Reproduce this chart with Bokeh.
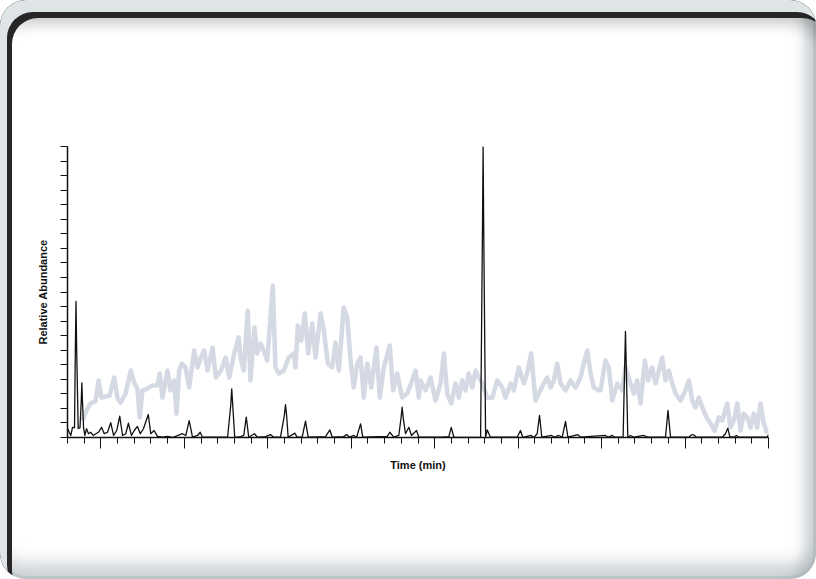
from bokeh.plotting import figure
from bokeh.models import Range1d, FixedTicker, CustomJSTickFormatter
from bokeh.embed import file_html
from bokeh.resources import INLINE

# ---- data ----
# grey trace (total ion current), time in ticks units, relative abundance in %
tic_t = [0.90, 1.14, 1.38, 1.68, 1.86, 2.04, 2.28, 2.52, 2.80, 3.00, 3.18, 3.48, 3.79, 4.01, 4.19, 4.33,
         4.49, 4.79, 5.09, 5.39, 5.53, 5.69, 5.99, 6.17, 6.39, 6.53, 6.69, 6.85, 7.07, 7.29, 7.59, 7.79,
         7.99, 8.19, 8.39, 8.69, 8.89, 9.19, 9.48, 9.69, 9.99, 10.25, 10.37, 10.56, 10.80, 10.96, 11.20,
         11.37, 11.56, 11.76, 11.97, 12.30, 12.46, 12.66, 12.96, 13.26, 13.56, 13.66, 13.80, 14.00, 14.22,
         14.42, 14.66, 14.86, 15.16, 15.36, 15.60, 15.86, 16.06, 16.26, 16.55, 16.76, 16.96, 17.15, 17.36,
         17.56, 17.75, 17.96, 18.20, 18.51, 18.71, 18.95, 19.31, 19.51, 19.75, 20.05, 20.35, 20.59, 20.85,
         21.05, 21.15, 21.45, 21.75, 22.05, 22.35, 22.55, 22.75, 22.99, 23.25, 23.45, 23.65, 23.85, 24.04,
         24.25, 24.45, 24.64, 24.85, 25.15, 25.45, 25.75, 26.05, 26.24, 26.54, 26.74, 27.04, 27.34, 27.54,
         27.78, 28.04, 28.24, 28.54, 28.74, 28.94, 29.14, 29.34, 29.54, 29.84, 30.14, 30.44, 30.74, 30.93,
         31.14, 31.34, 31.53, 31.82, 31.94, 32.23, 32.43, 32.64, 32.94, 33.24, 33.43, 33.73, 33.93, 34.13,
         34.33, 34.59, 34.79, 35.03, 35.23, 35.43, 35.63, 35.83, 36.03, 36.23, 36.43, 36.73, 37.03, 37.23,
         37.43, 37.63, 37.83, 38.03, 38.29, 38.53, 38.77, 39.02, 39.23, 39.53, 39.72, 39.92, 40.13, 40.32,
         40.52, 40.73, 40.92, 41.12, 41.32, 41.52, 41.72, 41.92]
tic_ab = [5.8, 9.3, 11.7, 12.4, 19.6, 13.7, 14.1, 14.4, 20.6, 13.4, 12.0, 15.1, 23.0, 18.6, 16.8, 6.9,
          16.2, 16.8, 17.9, 17.9, 22.0, 13.7, 23.0, 16.2, 19.6, 8.2, 23.0, 25.4, 24.1, 17.2, 29.9, 24.1,
          27.5, 29.9, 23.0, 30.9, 20.6, 23.0, 27.5, 20.6, 28.9, 34.4, 27.5, 23.0, 43.6, 19.6, 37.8,
          28.9, 32.3, 29.9, 26.5, 52.2, 24.1, 22.0, 23.0, 27.5, 28.9, 24.1, 38.5, 33.3, 42.6,
          28.9, 39.2, 27.5, 42.6, 36.8, 25.4, 24.1, 32.6, 23.0, 44.7, 41.2, 26.5, 17.2, 25.4,
          27.5, 13.7, 25.4, 17.2, 30.9, 13.7, 24.1, 31.6, 16.2, 22.0, 13.7, 15.1, 18.6, 23.0,
          13.7, 19.6, 16.2, 20.6, 12.7, 18.6, 28.9, 15.1, 11.7, 18.6, 13.7, 19.6, 16.2, 22.0,
          17.2, 23.0, 20.6, 18.6, 13.7, 13.7, 19.6, 17.2, 13.7, 18.6, 16.2, 24.1, 18.6, 22.0,
          28.9, 12.7, 15.1, 18.6, 20.6, 17.2, 19.6, 25.4, 18.6, 16.2, 19.6, 17.2, 20.6, 25.4,
          29.9, 22.0, 17.2, 16.2, 16.2, 26.5, 24.1, 12.7, 18.6, 16.2, 24.1, 18.6, 15.1, 19.6,
          11.7, 26.5, 19.6, 24.1, 18.6, 23.0, 27.5, 19.6, 23.0, 18.6, 15.1, 12.7, 16.2, 19.6,
          12.7, 10.3, 13.7, 10.3, 6.9, 4.8, 2.4, 6.9, 5.8, 11.7, 3.4, 5.8, 11.7, 2.4,
          8.2, 6.9, 3.4, 8.2, 3.4, 11.7, 4.8, 1.4]

# black trace (extracted ion chromatogram)
eic_t = [0.00, 0.20, 0.30, 0.42, 0.47, 0.51, 0.55, 0.64, 0.75, 0.82, 0.86, 0.90, 0.96, 1.04, 1.14, 1.26,
         1.40, 1.54, 1.70, 1.86, 2.04, 2.20, 2.40, 2.59, 2.76, 2.95, 3.13, 3.30, 3.49, 3.65, 3.83, 4.00,
         4.19, 4.36, 4.55, 4.84, 4.99, 5.19, 5.39, 5.69, 5.99, 6.29, 6.89, 7.09, 7.29, 7.49, 7.79, 7.95,
         8.09, 9.59, 9.78, 9.84, 9.90, 10.02, 10.37, 10.56, 10.71, 10.86, 11.20, 11.38, 11.86, 12.16, 12.36,
         12.76, 12.99, 13.06, 13.13, 13.22, 13.62, 13.76, 14.06, 14.26, 14.42, 15.46, 15.72, 15.86, 16.55,
         16.72, 16.91, 17.15, 17.32, 17.56, 17.69, 19.16, 19.31, 19.55, 19.85, 19.99, 20.05, 20.11, 20.25,
         20.45, 20.61, 20.91, 21.05, 22.35, 22.85, 22.99, 23.15, 24.55, 24.75, 24.86, 24.90, 24.94, 25.05,
         25.15, 25.34, 26.94, 27.14, 27.28, 27.78, 27.94, 28.14, 28.28, 28.42, 29.00, 29.18, 29.44, 29.64,
         29.84, 29.98, 30.58, 30.74, 32.23, 32.41, 32.64, 32.77, 33.29, 33.38, 33.43, 33.48, 33.57, 33.73,
         33.93, 34.53, 34.75, 35.83, 35.98, 36.13, 37.23, 37.37, 37.53, 37.67, 39.23, 39.42, 39.56, 39.68,
         39.90, 40.08, 40.22, 41.92, 42.00]
eic_ab = [3.1, 0.7, 3.5, 3.4, 30.0, 46.8, 30.0, 3.1, 3.4, 12.0, 18.8, 12.0, 3.5, 0.7, 3.0, 1.3,
          1.8, 0.7, 1.3, 1.8, 3.5, 1.3, 1.8, 5.1, 0.7, 2.4, 7.3, 0.7, 1.3, 4.9, 0.7, 2.4,
          3.8, 1.3, 3.0, 7.9, 1.3, 2.4, 0.4, 0.1, 0.4, 0.0, 1.3, 0.7, 5.8, 0.1, 0.7, 1.8,
          0.1, 0.1, 11.0, 16.7, 11.0, 0.0, 0.3, 0.7, 7.0, 0.1, 1.3, 0.1, 0.3, 1.0, 0.1,
          0.1, 7.5, 11.3, 7.5, 0.1, 1.5, 0.1, 0.1, 5.6, 0.1, 0.3, 2.6, 0.1, 0.3,
          1.0, 0.1, 0.7, 0.1, 4.7, 0.1, 0.4, 1.8, 0.1, 0.7, 7.0, 10.4, 7.0, 1.3,
          3.5, 0.7, 2.4, 0.1, 0.1, 0.3, 3.5, 0.1, 0.0, 0.1, 70.0, 100.0, 70.0, 0.1,
          2.6, 0.1, 0.1, 2.4, 0.0, 0.7, 0.0, 1.3, 7.6, 0.1, 0.7, 0.1, 0.7, 0.1,
          5.5, 0.1, 1.0, 0.1, 0.7, 0.1, 0.7, 0.1, 0.1, 24.0, 36.5, 24.0, 0.1, 0.7,
          0.1, 0.7, 0.1, 0.1, 9.3, 0.1, 0.1, 0.9, 0.9, 0.1, 0.1, 1.3, 3.2, 0.3,
          0.1, 0.7, 0.1, 0.1, 1.0]

x_major = [2, 7, 12, 17, 22, 27, 32, 37, 42]
x_minor = list(range(0, 43))
y_ticks = list(range(0, 101, 5))

x_label = "Time (min)"
y_label = "Relative Abundance"

# ---- figure ----
p = figure(width=816, height=579, output_backend="svg", toolbar_location=None,
           x_range=Range1d(0, 42), y_range=Range1d(0, 100),
           min_border_left=67, min_border_right=48, min_border_top=146, min_border_bottom=142,
           border_fill_color=None, background_fill_color=None, outline_line_color=None)

p.styles = {
    "background": "#ffffff",
    "border-radius": "26px",
    "box-shadow": ("inset 7px 12px 0 0 #dfe4e6, "
                   "inset 12px 18px 0 0 #262626, "
                   "inset 0 34px 14px -10px rgba(0,0,0,0.22), "
                   "inset 0 -24px 16px -8px rgba(160,170,176,0.5), "
                   "inset -16px 0 12px -4px rgba(160,170,176,0.5), "
                   "inset 0 0 0 3px #dfe4e6"),
}

p.grid.visible = False

p.line(tic_t, tic_ab, line_color="#c9cfdc", line_width=4.5, line_alpha=0.8, line_join="round")
p.line(eic_t, eic_ab, line_color="#111111", line_width=1.3, line_join="round")

blank = CustomJSTickFormatter(code="return ''")

xa = p.xaxis[0]
xa.ticker = FixedTicker(ticks=x_major, minor_ticks=x_minor)
xa.formatter = blank
xa.major_tick_out = 11
xa.major_tick_in = 0
xa.minor_tick_out = 6
xa.minor_tick_in = 0
xa.axis_line_width = 1.5
xa.major_tick_line_width = 1
xa.minor_tick_line_width = 1
xa.axis_line_color = "#111111"
xa.major_tick_line_color = "#111111"
xa.minor_tick_line_color = "#111111"
xa.major_label_standoff = 0
xa.axis_label = x_label
xa.axis_label_standoff = 10
xa.axis_label_text_font = "Liberation Sans"
xa.axis_label_text_font_style = "bold"
xa.axis_label_text_font_size = "11px"
xa.axis_label_text_color = "#111111"

ya = p.yaxis[0]
ya.ticker = FixedTicker(ticks=y_ticks, minor_ticks=[])
ya.formatter = blank
ya.major_tick_out = 7
ya.major_tick_in = 0
ya.axis_line_width = 1.5
ya.major_tick_line_width = 1
ya.axis_line_color = "#111111"
ya.major_tick_line_color = "#111111"
ya.major_label_standoff = 0
ya.axis_label = y_label
ya.axis_label_standoff = 12
ya.axis_label_text_font = "Liberation Sans"
ya.axis_label_text_font_style = "bold"
ya.axis_label_text_font_size = "11px"
ya.axis_label_text_color = "#111111"

open("out.html", "w").write(file_html(p, INLINE))
